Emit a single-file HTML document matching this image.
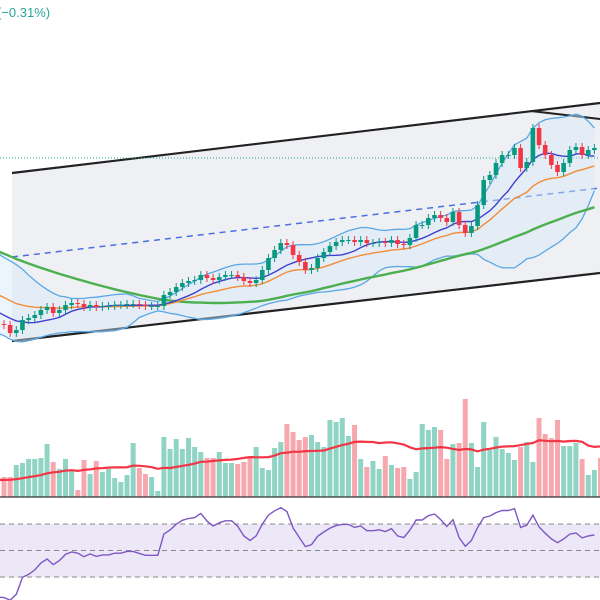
<!DOCTYPE html>
<html><head><meta charset="utf-8"><style>
html,body{margin:0;padding:0;background:#fff;width:600px;height:600px;overflow:hidden}
svg{display:block}
</style></head><body>
<svg id="chart" width="600" height="600" xmlns="http://www.w3.org/2000/svg">
<defs><clipPath id="clipMain"><rect x="0" y="0" width="600" height="600"/></clipPath></defs>
<text x="-3" y="17" font-family="Liberation Sans, sans-serif" font-size="13" fill="#26a69a">(−0.31%)</text>
<g id="channel">
<polygon points="12,173 600,103 600,273 12,341" fill="#eceef2" opacity="0.9"/>
<line x1="12" y1="173" x2="600" y2="103" stroke="#222" stroke-width="2.2"/>
<line x1="12" y1="341" x2="600" y2="273" stroke="#222" stroke-width="2.2"/>
<line x1="12" y1="257" x2="600" y2="188" stroke="#4a6fe3" stroke-width="1.5" stroke-dasharray="6,5"/>
<line x1="531" y1="111" x2="600" y2="119" stroke="#222" stroke-width="2"/>
<line x1="0" y1="158" x2="600" y2="158" stroke="#26a69a" stroke-width="1" stroke-dasharray="1,2"/>
</g>
<g id="bb" clip-path="url(#clipMain)"></g>
<g id="mas" clip-path="url(#clipMain)"></g>
<g id="candles" clip-path="url(#clipMain)"></g>
<g id="vol" clip-path="url(#clipMain)"></g>
<g id="rsi" clip-path="url(#clipMain)"></g>
</svg>
<script>
const preCloses=[100,99,101,98,97,99,96,95,97,94,93,95,92,90,91,89,88,86,87,85,84,82,83,80,78,79,76,74,72,73,70,68,66,64,65,62,60,58,55,53,50,52,48,46,44,45,42,40,41,38];
const closes=[37.5,33.5,35,40,41,42.5,45,46.5,43.5,45,47.5,48.5,48,46.5,47.5,46.5,47,47,47.5,47.5,48,48,47.5,47,47,47,52.5,54,56.5,58.5,59.5,60,62.5,61,60,61.5,62.5,62.5,61.5,59.5,58.5,60,65,71,75,78.5,77.5,72.5,69,65,66,71,74,77,79,80,80,79,80,78.5,78.5,79,78.5,80,78,77.5,81,87.5,87.5,91,92.5,91,89,94,87.5,83.5,87,97.5,110,112.5,118.5,122.5,122.5,126,116,119,136,127.5,122.5,117.5,114,118.5,125,126.5,122.5,125,126];
const preVolumes=[18,16,20,15,17,19,16,18,15,17,16,18,20,17,15,16,18,17,16,15];
const volumes=[20,20,32,34,38,38,39,53,35,28,38,27,7,37,23,36,25,28,19,15,22,54,29,23,20,6,60,48,58,48,59,50,45,39,39,45,34,34,33,35,39,50,29,27,49,55,73,65,57,60,62,55,50,77,75,79,61,72,38,30,36,28,41,32,29,30,18,25,73,67,70,67,38,53,54,98,54,30,75,47,60,48,44,37,50,55,35,79,63,59,77,51,51,54,38,22,27,39];
const rsiLevels=[70,50,30];

const NS='http://www.w3.org/2000/svg';
const step=6.15, x0=4;
const xS=i=>x0+i*step;             // i: visible index (negative for history)
const yP=p=>400-2*p;               // price axis
const volBase=497;
const yV=v=>volBase-v;             // volume axis
const yR=r=>550.5-(r-50)*1.325;    // RSI axis

const all=preCloses.concat(closes), P=preCloses.length;
const allV=preVolumes.concat(volumes), PV=preVolumes.length;
function mk(tag,attrs,parent){const e=document.createElementNS(NS,tag);for(const k in attrs)e.setAttribute(k,attrs[k]);parent.appendChild(e);return e;}
function sma(arr,n,k){let s=0,c=0;for(let j=Math.max(0,k-n+1);j<=k;j++){s+=arr[j];c++;}return s/c;}
function pathOf(pts){return pts.map((p,i)=>(i?'L':'M')+p[0].toFixed(1)+','+p[1].toFixed(1)).join('');}

// Bollinger bands
const bb=document.getElementById('bb'), up=[], lo=[];
for(let k=15;k<all.length;k++){const m=sma(all,20,k);let s=0,c=0;for(let j=Math.max(0,k-19);j<=k;j++){s+=(all[j]-m)**2;c++;}const sd=Math.sqrt(s/c);up.push([xS(k-P),yP(m+2*sd)]);lo.push([xS(k-P),yP(m-2*sd)]);}
const bf=mk('path',{d:pathOf(up)+pathOf(lo.slice().reverse()).replace('M','L')+'Z',fill:'#d6e9f8',opacity:'0.45'},bb);


const bu=mk('path',{d:pathOf(up),fill:'none',stroke:'#5aa7e6','stroke-width':1.3},bb);


const bl=mk('path',{d:pathOf(lo),fill:'none',stroke:'#5aa7e6','stroke-width':1.3},bb);



// moving averages
const mas=document.getElementById('mas');
const g50=[],e20=[],s9=[];let ema=all[0];
for(let k=0;k<all.length;k++){ema=k?ema+(all[k]-ema)*2/21:all[0];if(k>=20){g50.push([xS(k-P),yP(sma(all,50,k))]);e20.push([xS(k-P),yP(ema)]);s9.push([xS(k-P),yP(sma(all,9,k))]);}}
const m1=mk('path',{d:pathOf(g50),fill:'none',stroke:'#4caf50','stroke-width':2.4},mas);


const m2=mk('path',{d:pathOf(e20),fill:'none',stroke:'#f28c38','stroke-width':1.4},mas);


const m3=mk('path',{d:pathOf(s9),fill:'none',stroke:'#3f3fcf','stroke-width':1.4},mas);



// candles
const cg=document.getElementById('candles');
for(let i=0;i<closes.length;i++){
  const o=i?closes[i-1]:preCloses[P-1], c=closes[i];
  const upc=c>=o, col=upc?'#089981':'#f23645';
  const hi=Math.max(o,c)+2, lw=Math.min(o,c)-2, x=xS(i);
  const w=mk('line',{x1:x,x2:x,y1:yP(hi),y2:yP(lw),stroke:col,'stroke-width':1},cg);
  
  
  const top=yP(Math.max(o,c)), h=Math.max(1,yP(Math.min(o,c))-top);
  const b=mk('rect',{x:x-2.3,y:top,width:4.6,height:h,fill:col},cg);
  
  
}

// volume
const vg=document.getElementById('vol');
for(let i=0;i<volumes.length;i++){
  const o=i?closes[i-1]:preCloses[P-1], upc=closes[i]>=o;
  const r=mk('rect',{x:xS(i)-2.5,y:yV(volumes[i]),width:5,height:volumes[i],fill:upc?'#8fd4c4':'#f7a8af'},vg);
  
  
}
const vma=[];for(let k=0;k<allV.length;k++){if(k>=PV-2)vma.push([xS(k-PV),yV(sma(allV,20,k))]);}
const vl=mk('path',{d:pathOf(vma),fill:'none',stroke:'#f23645','stroke-width':2.2},vg);


const vb=mk('line',{x1:0,x2:600,y1:volBase,y2:volBase,stroke:'#333','stroke-width':1.2},vg);



// RSI
const rg=document.getElementById('rsi');
const band=mk('rect',{x:0,y:yR(rsiLevels[0]),width:600,height:yR(rsiLevels[2])-yR(rsiLevels[0]),fill:'#ede8f8'},rg);


rsiLevels.forEach(l=>{const ln=mk('line',{x1:0,x2:600,y1:yR(l),y2:yR(l),stroke:'#888','stroke-width':1,'stroke-dasharray':'5,4'},rg);
  
  });
let ag=0,al=0;const rp=[];
for(let k=1;k<all.length;k++){const d=all[k]-all[k-1],g=Math.max(d,0),l=Math.max(-d,0);
  if(k<=14){ag+=g/14;al+=l/14;}else{ag=(ag*13+g)/14;al=(al*13+l)/14;}
  if(k>=P-1){const r=al===0?100:100-100/(1+ag/al);rp.push([xS(k-P),yR(r)]);}}
const rl=mk('path',{d:pathOf(rp),fill:'none',stroke:'#7e57c2','stroke-width':1.4},rg);


</script>
</body></html>
